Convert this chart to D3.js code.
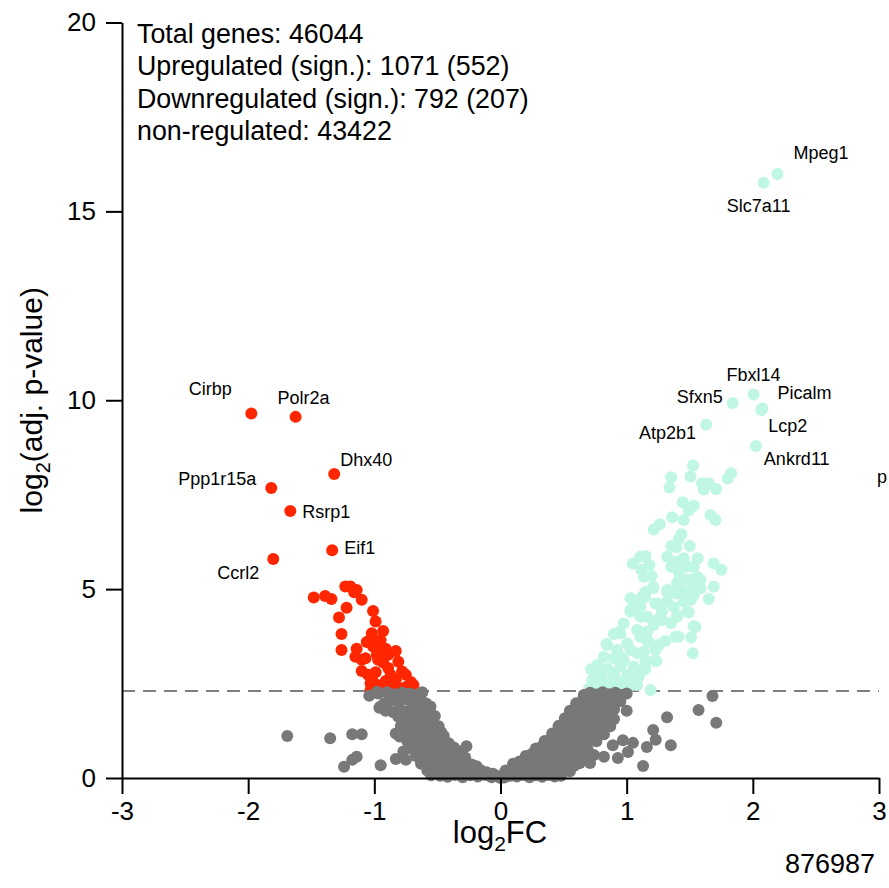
<!DOCTYPE html>
<html>
<head>
<meta charset="utf-8">
<script src="https://cdn.jsdelivr.net/npm/d3@7"></script>
<style>
  body { margin: 0; background: #ffffff; }
  svg text { font-family: "Liberation Sans", Arial, Helvetica, sans-serif; fill: #000; }
</style>
</head>
<body>
<svg id="chart" width="889" height="888"></svg>
<script>
// ---- data -------------------------------------------------------------
const xTicks = [-3, -2, -1, 0, 1, 2, 3];
const yTicks = [0, 5, 10, 15, 20];
const pThreshold = 2.3;           // log2(adj. p) cut-off (dashed line)
const summaryLines = [
  "Total genes: 46044",
  "Upregulated (sign.): 1071 (552)",
  "Downregulated (sign.): 792 (207)",
  "non-regulated: 43422"
];
const plotId = "876987";

// labelled genes: [name, log2FC, log2(adj. p)]
const upLabeled = [
  ["Mpeg1", 2.195, 15.99], ["Slc7a11", 2.085, 15.76], ["Fbxl14", 2.006, 10.15],
  ["Sfxn5", 1.841, 9.93], ["Picalm", 2.076, 9.78], ["Lcp2", 2.066, 9.74],
  ["Atp2b1", 1.630, 9.35], ["Ankrd11", 2.024, 8.79]
];
const downLabeled = [
  ["Cirbp", -1.975, 9.65], ["Polr2a", -1.624, 9.56], ["Dhx40", -1.318, 8.05],
  ["Ppp1r15a", -1.817, 7.68], ["Rsrp1", -1.666, 7.07], ["Eif1", -1.334, 6.03],
  ["Ccrl2", -1.801, 5.80]
];

// significant, down-regulated: [log2FC, log2(adj. p)]
const downPoints = [
  [-1.48,4.78],[-1.39,4.82],[-1.34,4.74],[-1.23,5.07],[-1.19,5.07],[-1.16,4.92],[-1.14,4.98],
  [-1.10,4.72],[-1.22,4.51],[-1.28,4.25],[-1.01,4.42],[-0.99,4.14],[-0.93,3.89],[-1.02,3.83],
  [-1.26,3.81],[-1.26,3.39],[-1.14,3.42],[-1.01,3.48],[-0.98,3.26],[-0.91,3.42],[-0.83,3.36],
  [-1.10,3.13],[-1.07,3.17],[-0.93,3.06],[-1.10,2.83],[-0.99,2.80],[-0.89,2.91],[-0.81,3.08],
  [-0.78,2.82],[-1.01,2.55],[-0.91,2.57],[-0.83,2.60],[-0.75,2.73],[-0.69,2.46],[-0.98,2.46],
  [-0.86,2.46],[-1.05,2.73],[-1.03,3.66],[-0.95,3.52],[-0.97,3.13],[-0.87,2.73],[-0.75,2.41],
  [-0.95,2.38],[-1.03,2.33],[-0.81,2.38],[-1.15,3.21],[-1.06,3.60],[-0.95,3.65],[-0.89,3.26],
  [-0.71,2.54],[-1.03,2.51],[-0.90,2.35]
];

// significant, up-regulated: [log2FC, log2(adj. p)]
const upPoints = [
  [1.527,8.27],[1.506,7.98],[1.353,7.96],[1.339,7.69],[1.598,7.80],[1.651,7.80],[1.611,7.64],
  [1.709,7.65],[1.828,8.07],[1.801,7.93],[1.445,7.30],[1.532,7.21],[1.492,7.09],[1.361,6.90],
  [1.452,6.83],[1.664,6.96],[1.704,6.83],[1.262,6.72],[1.215,6.58],[1.434,6.45],[1.413,6.33],
  [1.353,6.14],[1.500,6.14],[1.395,6.11],[1.149,5.88],[1.048,5.68],[1.321,5.86],[1.353,5.59],
  [1.452,5.82],[1.563,5.82],[1.532,5.59],[1.181,5.64],[1.115,5.51],[1.197,5.35],[1.690,5.68],
  [1.751,5.51],[1.559,5.33],[1.421,5.33],[1.400,5.06],[1.210,5.06],[1.149,4.93],[1.030,4.76],
  [1.321,4.93],[1.532,5.02],[1.585,5.02],[1.690,5.06],[1.651,4.74],[1.228,4.62],[1.321,4.67],
  [1.452,4.67],[1.030,4.45],[1.109,4.53],[1.492,4.38],[1.400,4.31],[1.281,4.18],[1.532,4.02],
  [1.215,4.05],[0.937,3.86],[0.898,3.81],[1.083,3.92],[1.387,3.74],[1.511,3.72],[1.307,3.63],
  [0.840,3.55],[1.004,3.57],[1.162,3.65],[1.524,3.30],[1.228,3.10],[0.819,3.21],[0.951,3.21],
  [1.083,3.30],[0.719,2.88],[0.846,2.90],[0.951,2.95],[1.070,2.86],[1.149,2.90],[0.727,2.59],
  [0.819,2.59],[0.925,2.59],[1.030,2.64],[1.083,2.46],[0.766,2.42],[1.189,2.33],
  [1.149,4.80],[1.212,5.03],[1.321,4.98],[1.400,5.16],[1.506,5.24],[1.532,4.84],[1.373,4.53],
  [1.242,4.62],[1.030,4.40],[1.109,4.27],[1.162,4.27],[1.242,4.18],[1.400,4.27],[1.479,4.40],
  [1.545,4.00],[1.413,3.74],[1.215,4.09],[1.162,3.87],[0.977,4.09],[0.951,3.83],[1.109,3.74],
  [1.175,3.61],[1.254,3.52],[0.845,3.52],[0.925,3.39],[1.030,3.39],[1.135,3.34],[1.228,3.39],
  [0.898,3.17],[0.977,3.12],[1.149,3.12],[1.236,3.10],[0.766,2.99],[1.056,2.95],[1.135,2.86],
  [0.792,2.77],[0.898,2.77],[1.004,2.73],[1.096,2.68],[0.806,2.55],[0.898,2.55],[0.990,2.51],
  [0.739,2.46],[0.845,2.42],[0.951,2.44],[1.044,2.46],[1.109,5.86],[1.135,5.33],[1.122,4.80],
  [1.070,4.62],[1.387,4.89],[1.458,4.93],[1.506,4.71],[1.400,5.73],[1.484,5.59],[1.413,5.46],
  [1.479,5.24],[1.585,5.24],[1.280,4.40],[1.350,4.10],[0.880,2.35],[1.000,2.36],[0.700,2.36]
];

// not significant: [log2FC, log2(adj. p)]
const nsPoints = [
  // left arm
  [-1.04,2.18],[-0.97,2.24],[-0.90,2.27],[-0.84,2.22],[-0.78,2.26],[-0.72,2.24],[-0.66,2.21],
  [-0.62,2.27],[-0.98,2.28],[-0.92,1.98],[-0.86,2.05],[-0.80,2.02],[-0.74,2.08],[-0.68,2.00],
  [-0.63,2.06],[-0.59,1.97],[-0.96,1.86],[-0.91,1.78],[-0.85,1.74],[-0.95,1.89],[-0.90,1.80],
  [-0.80,1.82],[-0.75,1.76],[-0.70,1.85],[-0.65,1.79],[-0.60,1.83],[-0.56,1.76],[-0.555,1.89],
  [-0.81,1.62],[-0.76,1.55],[-0.71,1.65],[-0.66,1.58],[-0.61,1.62],[-0.56,1.55],[-0.52,1.64],
  [-0.79,1.38],[-0.74,1.44],[-0.69,1.36],[-0.64,1.42],[-0.59,1.35],[-0.54,1.43],[-0.49,1.37],
  [-0.77,1.22],[-0.72,1.16],[-0.67,1.24],[-0.62,1.18],[-0.57,1.22],[-0.52,1.15],[-0.47,1.21],
  [-0.45,1.12],[-0.83,1.18],[-0.80,1.10],[-0.74,0.98],[-0.69,1.04],[-0.64,0.96],[-0.59,1.02],
  [-0.54,0.95],[-0.49,1.03],[-0.44,0.97],[-0.41,0.92],[-0.71,0.78],[-0.66,0.84],[-0.61,0.76],
  [-0.56,0.82],[-0.51,0.75],[-0.46,0.83],[-0.41,0.77],[-0.37,0.81],[-0.34,0.72],[-0.67,0.58],
  [-0.62,0.64],[-0.57,0.56],[-0.52,0.62],[-0.47,0.57],[-0.42,0.63],[-0.37,0.55],[-0.32,0.61],
  [-0.28,0.54],[-0.63,0.38],[-0.58,0.44],[-0.53,0.36],[-0.48,0.42],[-0.43,0.37],[-0.38,0.43],
  [-0.33,0.35],[-0.28,0.41],[-0.23,0.36],[-0.19,0.31],[-0.58,0.20],[-0.52,0.24],[-0.46,0.17],
  [-0.40,0.22],[-0.34,0.16],[-0.28,0.23],[-0.22,0.18],[-0.16,0.21],[-0.11,0.15],[-0.06,0.11],
  [-0.55,0.07],[-0.48,0.06],[-0.42,0.03],[-0.36,0.08],[-0.30,0.02],[-0.24,0.07],[-0.18,0.04],
  [-0.12,0.08],[-0.07,0.02],[-0.02,0.05],[0.03,0.01],[0.08,0.06],[0.00,0.00],
  // left outliers
  [-1.69,1.11],[-1.35,1.05],[-1.175,1.16],[-1.10,1.16],[-1.24,0.30],[-1.175,0.48],[-1.14,0.56],
  [-0.95,0.34],[-0.83,0.50],[-0.77,0.70],[-0.75,0.48],[-0.63,0.45],[-0.27,0.84],
  // right arm
  [0.66,2.20],[0.71,2.26],[0.76,2.21],[0.81,2.27],[0.86,2.22],[0.91,2.26],[0.96,2.20],[1.00,2.24],
  [0.60,1.98],[0.65,2.05],[0.70,1.97],[0.75,2.04],[0.80,1.99],[0.85,2.06],[0.90,1.97],[0.95,2.03],
  [0.55,1.78],[0.60,1.85],[0.65,1.76],[0.70,1.83],[0.75,1.77],[0.80,1.84],[0.85,1.76],[0.90,1.82],
  [1.00,1.78],[0.51,1.58],[0.56,1.65],[0.61,1.56],[0.66,1.63],[0.71,1.57],[0.76,1.64],[0.81,1.55],
  [0.86,1.62],[0.90,1.56],[0.46,1.38],[0.51,1.45],[0.56,1.36],[0.61,1.43],[0.66,1.37],[0.71,1.44],
  [0.76,1.35],[0.81,1.42],[0.87,1.37],[0.41,1.18],[0.46,1.24],[0.51,1.16],[0.56,1.23],[0.61,1.17],
  [0.66,1.24],[0.71,1.15],[0.76,1.22],[0.82,1.16],[0.35,0.98],[0.40,1.04],[0.45,0.96],[0.50,1.03],
  [0.55,0.97],[0.60,1.04],[0.65,0.95],[0.70,1.02],[0.76,0.97],[0.28,0.78],[0.33,0.84],[0.38,0.76],
  [0.43,0.83],[0.48,0.77],[0.53,0.84],[0.58,0.75],[0.63,0.82],[0.69,0.77],[0.20,0.58],[0.25,0.64],
  [0.30,0.56],[0.35,0.63],[0.40,0.57],[0.45,0.64],[0.50,0.55],[0.55,0.62],[0.60,0.56],[0.66,0.60],
  [0.10,0.38],[0.15,0.44],[0.20,0.36],[0.25,0.43],[0.30,0.37],[0.35,0.44],[0.40,0.35],[0.45,0.42],
  [0.50,0.36],[0.55,0.43],[0.61,0.38],[0.04,0.20],[0.09,0.24],[0.14,0.17],[0.19,0.23],[0.24,0.16],
  [0.29,0.22],[0.34,0.18],[0.39,0.24],[0.44,0.17],[0.49,0.22],[0.55,0.18],[0.13,0.04],[0.18,0.08],
  [0.23,0.02],[0.28,0.07],[0.33,0.03],[0.38,0.08],[0.43,0.04],[0.48,0.06],
  // right outliers
  [1.32,1.61],[1.57,1.80],[1.68,2.17],[1.71,1.46],[1.21,1.27],[1.23,1.01],[1.16,0.82],[1.35,0.87],
  [1.13,0.32],[0.89,0.87],[0.97,1.00],[1.05,0.93],[1.01,0.69],[0.74,0.61],[0.82,0.56],[0.93,0.53],
  [0.71,0.40],[0.58,0.32],[0.63,0.40]
];

// ---- layout & style ---------------------------------------------------
const R = 6;
const colors = { up: "#BFF7E2", down: "#FF2600", ns: "#787878", axis: "#000000", cut: "#7F7F7F" };

// label placement relative to the dot: [anchor, dx, dy]
const labelPlace = {
  Mpeg1: ["start", 16, -15], Slc7a11: ["middle", -5, 29], Fbxl14: ["middle", 0, -14],
  Sfxn5: ["end", -10, 0], Picalm: ["start", 15, -10], Lcp2: ["start", 7, 22],
  Atp2b1: ["end", -10, 14], Ankrd11: ["start", 8, 19],
  Cirbp: ["middle", -41, -18], Polr2a: ["middle", 8, -13], Dhx40: ["start", 6, -8],
  Ppp1r15a: ["end", -15, -3], Rsrp1: ["start", 12, 7], Eif1: ["start", 12, 4],
  Ccrl2: ["end", -14, 20]
};

const svg = d3.select("#chart");
const x = d3.scaleLinear().domain([-3, 3]).range([122, 879]);
const y = d3.scaleLinear().domain([0, 20]).range([778, 22.5]);

// threshold line
svg.append("line")
  .attr("x1", x(-3)).attr("x2", x(3))
  .attr("y1", y(pThreshold)).attr("y2", y(pThreshold))
  .attr("stroke", colors.cut).attr("stroke-width", 2)
  .attr("stroke-dasharray", "13,8");

// points: coloured groups first, non-significant on top
function dots(data, color) {
  svg.append("g").selectAll("circle").data(data).join("circle")
    .attr("cx", d => x(d[0])).attr("cy", d => y(d[1])).attr("r", R)
    .attr("fill", color);
}
dots(downPoints, colors.down);
dots(downLabeled.map(d => [d[1], d[2]]), colors.down);
dots(upPoints, colors.up);
dots(upLabeled.map(d => [d[1], d[2]]), colors.up);
dots(nsPoints, colors.ns);

// axes
const fmt = d => String(d);
const gx = svg.append("g").attr("transform", `translate(0,${y(0)})`)
  .call(d3.axisBottom(x).tickValues(xTicks).tickFormat(fmt).tickSize(16).tickSizeOuter(0).tickPadding(8));
const gy = svg.append("g").attr("transform", `translate(${x(-3)},0)`)
  .call(d3.axisLeft(y).tickValues(yTicks).tickFormat(fmt).tickSize(16).tickSizeOuter(0).tickPadding(10));
[gx, gy].forEach(g => {
  g.selectAll("path, line").attr("stroke", colors.axis).attr("stroke-width", 2);
  g.selectAll("text").attr("font-size", 26).attr("fill", "#000")
    .style("font-family", '"Liberation Sans", Arial, sans-serif');
});

// gene labels
function geneLabels(list) {
  svg.append("g").selectAll("text").data(list).join("text")
    .attr("x", d => x(d[1]) + labelPlace[d[0]][1])
    .attr("y", d => y(d[2]) + labelPlace[d[0]][2])
    .attr("text-anchor", d => labelPlace[d[0]][0])
    .attr("font-size", 18)
    .text(d => d[0]);
}
geneLabels(upLabeled);
geneLabels(downLabeled);
// label of a gene lying beyond the right edge of the axis range
svg.append("text").attr("x", x(3) - 2).attr("y", 483).attr("font-size", 18).text("p");

// summary block
svg.append("g").selectAll("text").data(summaryLines).join("text")
  .attr("x", 137).attr("y", (d, i) => 43 + i * 32.3)
  .attr("font-size", 26.8).text(d => d);

// axis titles
const xt = svg.append("text").attr("x", 500).attr("y", 843)
  .attr("text-anchor", "middle").attr("font-size", 31);
xt.append("tspan").text("log");
xt.append("tspan").attr("font-size", 21).attr("dy", 8).text("2");
xt.append("tspan").attr("dy", -8).text("FC");

const yt = svg.append("text")
  .attr("transform", `translate(42,${(y(0) + y(20)) / 2}) rotate(-90)`)
  .attr("text-anchor", "middle").attr("font-size", 30);
yt.append("tspan").text("log");
yt.append("tspan").attr("font-size", 20).attr("dy", 8).text("2");
yt.append("tspan").attr("dy", -8).text("(adj. p-value)");

svg.append("text").attr("x", 875).attr("y", 873).attr("text-anchor", "end")
  .attr("font-size", 27).text(plotId);
</script>
</body>
</html>
